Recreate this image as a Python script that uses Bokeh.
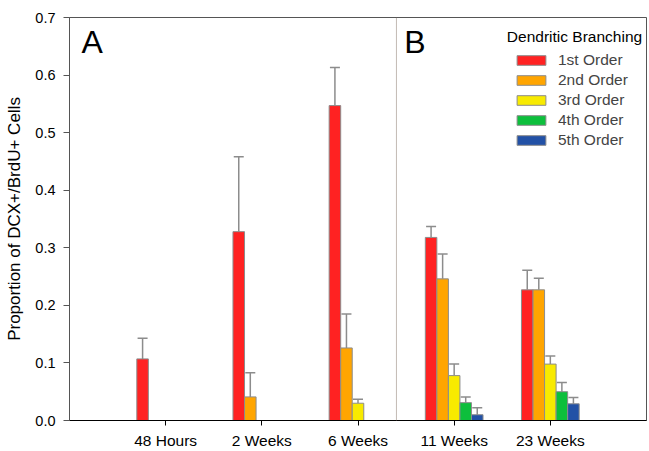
import math
from bokeh.plotting import figure
from bokeh.models import (ColumnDataSource, Range1d, FixedTicker, PrintfTickFormatter,
                          Legend, LegendItem, Whisker, TeeHead, BoxAnnotation, Label)
from bokeh.embed import file_html
from bokeh.resources import INLINE

NaN = float("nan")

categories = ["48 Hours", "2 Weeks", "6 Weeks", "11 Weeks", "23 Weeks"]
series_names = ["1st Order", "2nd Order", "3rd Order", "4th Order", "5th Order"]

first = [0.107, 0.328, 0.547, 0.318, 0.227]
first_err = [0.036, 0.130, 0.066, 0.019, 0.034]
second = [NaN, 0.041, 0.126, 0.246, 0.227]
second_err = [NaN, 0.042, 0.059, 0.043, 0.020]
third = [NaN, NaN, 0.030, 0.078, 0.098]
third_err = [NaN, NaN, 0.007, 0.020, 0.014]
fourth = [NaN, NaN, NaN, 0.031, 0.050]
fourth_err = [NaN, NaN, NaN, 0.010, 0.016]
fifth = [NaN, NaN, NaN, 0.010, 0.029]
fifth_err = [NaN, NaN, NaN, 0.012, 0.011]

colors = ["#FF2222", "#FFA500", "#F8EA00", "#0DBF3C", "#2251A6"]
y_ticks = [0.0, 0.1, 0.2, 0.3, 0.4, 0.5, 0.6, 0.7]
divider_at = 3.4

FONT = "Liberation Sans"
bw = 0.12

p = figure(width=649, height=451, output_backend="svg", toolbar_location=None,
           x_range=Range1d(0, 6), y_range=Range1d(0, 0.7),
           min_border_left=69, min_border_right=3, min_border_top=17, min_border_bottom=30)

p.xgrid.visible = False
p.ygrid.visible = False
p.outline_line_color = "#555555"
p.outline_line_width = 1

values = [first, second, third, fourth, fifth]
errors = [first_err, second_err, third_err, fourth_err, fifth_err]

items = []
for j, (name, vals, errs, col) in enumerate(zip(series_names, values, errors, colors)):
    xs, tops, ups = [], [], []
    for i, (v, e) in enumerate(zip(vals, errs)):
        if math.isnan(v):
            continue
        xs.append(i + 1 + (j - 2) * bw)
        tops.append(v)
        ups.append(v + e)
    src = ColumnDataSource(dict(x=xs, top=tops, upper=ups))
    w = Whisker(source=src, base="x", lower="top", upper="upper",
                line_color="#8c8c8c", line_width=1.5,
                upper_head=TeeHead(size=10, line_color="#8c8c8c", line_width=1.5),
                lower_head=None, level="underlay")
    p.add_layout(w)
    r = p.vbar(x="x", top="top", bottom=0, width=bw, source=src,
               fill_color=col, line_color="#8c8c8c", line_width=1)
    items.append(LegendItem(label=name, renderers=[r]))

legend = Legend(items=items, location=(444, 270), orientation="vertical",
                glyph_width=36, glyph_height=12, label_height=20, spacing=0,
                padding=0, margin=0, label_standoff=9,
                border_line_color=None, background_fill_alpha=0,
                label_text_font=FONT, label_text_font_size="15.5px")
p.add_layout(legend)

p.add_layout(Label(x=4.548, y=0.6674, text="Dendritic Branching", text_font=FONT,
                   text_font_size="15.5px", text_baseline="alphabetic", text_color="black"))

p.add_layout(BoxAnnotation(left=divider_at, right=divider_at, top=0.7, bottom=-0.052,
                           fill_alpha=0, line_color="#8a7a70", line_width=1))

p.add_layout(Label(x=0.125, y=0.657, text="A", text_font=FONT, text_font_size="32px",
                   text_baseline="alphabetic", text_color="black"))
p.add_layout(Label(x=3.48, y=0.657, text="B", text_font=FONT, text_font_size="32px",
                   text_baseline="alphabetic", text_color="black"))

# x axis
xa = p.xaxis[0]
xa.ticker = FixedTicker(ticks=list(range(1, len(categories) + 1)))
xa.major_label_overrides = {i + 1: c for i, c in enumerate(categories)}
xa.axis_line_color = "black"
xa.major_tick_line_color = "black"
xa.major_tick_out = 5
xa.major_tick_in = 0
xa.minor_tick_line_color = None
xa.major_label_text_font = FONT
xa.major_label_text_font_size = "15.5px"
xa.major_label_text_color = "black"
xa.major_label_standoff = 6

# y axis
ya = p.yaxis[0]
ya.ticker = FixedTicker(ticks=y_ticks)
ya.formatter = PrintfTickFormatter(format="%.1f")
ya.axis_line_color = "#555555"
ya.major_tick_line_color = "#555555"
ya.major_tick_out = 6
ya.major_tick_in = 0
ya.minor_tick_line_color = None
ya.major_label_text_font = FONT
ya.major_label_text_font_size = "14.5px"
ya.major_label_text_color = "black"
ya.major_label_standoff = 8
ya.axis_label = "Proportion of DCX+/BrdU+ Cells"
ya.axis_label_text_font = FONT
ya.axis_label_text_font_size = "17px"
ya.axis_label_text_font_style = "normal"
ya.axis_label_text_color = "black"
ya.axis_label_standoff = 8

open("out.html", "w").write(file_html(p, INLINE))
